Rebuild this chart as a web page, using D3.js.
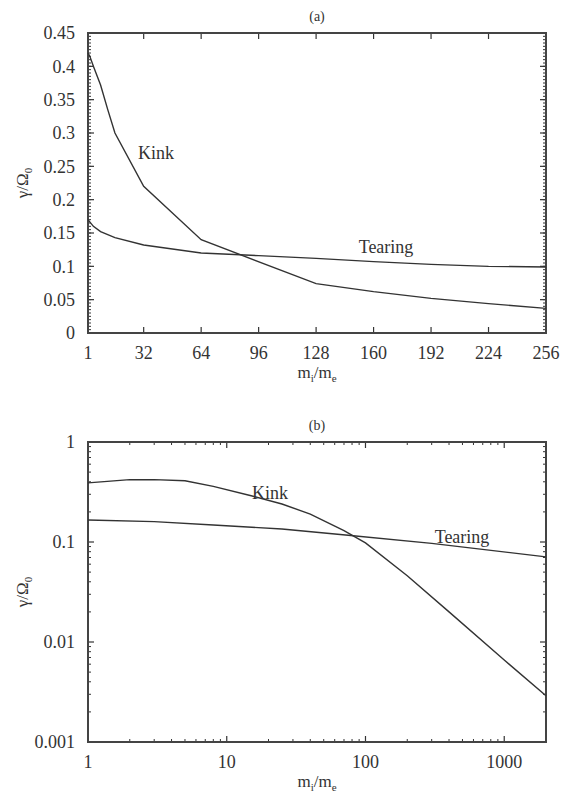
<!DOCTYPE html>
<html><head><meta charset="utf-8">
<script src="https://cdn.jsdelivr.net/npm/d3@7"></script>
<style>body{margin:0;background:#fff}text{font-family:"Liberation Serif","Times New Roman",serif;fill:#333}</style>
</head><body>
<svg id="c" width="571" height="798"></svg>
<script>
// Panel (a): linear axes
const aKinkX = [1, 2, 4, 8, 12, 16, 32, 64, 128, 160, 192, 224, 256];
const aKinkY = [0.42, 0.415, 0.40, 0.372, 0.335, 0.30, 0.22, 0.14, 0.074, 0.062, 0.052, 0.044, 0.037];
const aTearX = [1, 4, 8, 16, 32, 64, 96, 128, 160, 192, 224, 256];
const aTearY = [0.17, 0.16, 0.152, 0.143, 0.132, 0.12, 0.116, 0.112, 0.107, 0.103, 0.100, 0.099];
const aXTicks = [1, 32, 64, 96, 128, 160, 192, 224, 256];
const aYTicks = [0, 0.05, 0.1, 0.15, 0.2, 0.25, 0.3, 0.35, 0.4, 0.45];
// Panel (b): log-log axes
const bKinkX = [1, 2, 3, 5, 8, 15, 25, 40, 70, 100, 200, 400, 1000, 2000];
const bKinkY = [0.39, 0.42, 0.42, 0.41, 0.36, 0.29, 0.24, 0.19, 0.13, 0.098, 0.046, 0.02, 0.0066, 0.0029];
const bTearX = [1, 3, 8, 25, 75, 300, 2000];
const bTearY = [0.166, 0.16, 0.148, 0.135, 0.117, 0.097, 0.071];
const bXTicks = [1, 10, 100, 1000];
const bYTicks = [0.001, 0.01, 0.1, 1];

const svg = d3.select("#c");
const L = 88, R = 546;
const ink = "#333";

function frame(g, x, y, xTicks, xMinor, yTicks, yMinor, xfmt, yfmt, top, bottom){
  const tk = (x1,y1,x2,y2,w)=>g.append("line").attr("x1",x1).attr("y1",y1).attr("x2",x2).attr("y2",y2).attr("stroke",ink).attr("stroke-width",w||1);
  yMinor.forEach(v=>{const p=y(v); tk(L,p,L+3,p); tk(R,p,R-3,p);});
  xMinor.forEach(v=>{const p=x(v); tk(p,bottom,p,bottom-3); tk(p,top,p,top+3);});
  yTicks.forEach(v=>{const p=y(v); tk(L,p,L+6,p,1.2); tk(R,p,R-6,p,1.2);
    g.append("text").attr("x",L-13).attr("y",p).attr("dy","0.35em").attr("text-anchor","end").attr("font-size",18).text(yfmt(v));});
  xTicks.forEach(v=>{const p=x(v); tk(p,bottom,p,bottom-6,1.2); tk(p,top,p,top+6,1.2);
    g.append("text").attr("x",p).attr("y",bottom+26).attr("text-anchor","middle").attr("font-size",18).text(xfmt(v));});
  g.append("rect").attr("x",L).attr("y",top).attr("width",R-L).attr("height",bottom-top)
    .attr("fill","none").attr("stroke","#444").attr("stroke-width",2);
}
function labels(g, top, bottom, title){
  g.append("text").attr("x",(L+R)/2).attr("y",top-12).attr("text-anchor","middle").attr("font-size",14).text(title);
  const xl = g.append("text").attr("x",(L+R)/2).attr("y",bottom+45).attr("text-anchor","middle").attr("font-size",17);
  xl.append("tspan").text("m");
  xl.append("tspan").attr("font-size",11).attr("dy",4).text("i");
  xl.append("tspan").attr("dy",-4).text("/m");
  xl.append("tspan").attr("font-size",11).attr("dy",4).text("e");
  const cy=(top+bottom)/2;
  const yl = g.append("text").attr("transform",`translate(28,${cy}) rotate(-90)`).attr("text-anchor","middle").attr("font-size",17);
  yl.append("tspan").text("γ/Ω");
  yl.append("tspan").attr("font-size",11).attr("dy",4).text("0");
}
function curve(g, x, y, xs, ys){
  const line = d3.line().x(d=>x(d[0])).y(d=>y(d[1]));
  g.append("path").attr("d", line(xs.map((v,i)=>[v, ys[i]]))).attr("fill","none").attr("stroke",ink).attr("stroke-width",1.4);
}

// Panel (a)
{
  const top=33, bottom=333;
  const g = svg.append("g");
  const x = d3.scaleLinear().domain([1,256]).range([L,R]);
  const y = d3.scaleLinear().domain([0,0.45]).range([bottom,top]);
  const yMinor = d3.range(0,0.4501,0.005);
  frame(g,x,y,aXTicks,[],aYTicks,yMinor,d=>String(d),d=>d3.format("")(+d.toFixed(2)),top,bottom);
  curve(g,x,y,aKinkX,aKinkY);
  curve(g,x,y,aTearX,aTearY);
  labels(g,top,bottom,"(a)");
  g.append("text").attr("x",156).attr("y",159).attr("text-anchor","middle").attr("font-size",18).text("Kink");
  g.append("text").attr("x",386).attr("y",253).attr("text-anchor","middle").attr("font-size",18).text("Tearing");
}
// Panel (b)
{
  const top=442, bottom=742;
  const g = svg.append("g");
  const x = d3.scaleLog().domain([1,2000]).range([L,R]);
  const y = d3.scaleLog().domain([0.001,1]).range([bottom,top]);
  const xMinor=[], yMinor=[];
  [1,10,100,1000].forEach(d=>{for(let k=2;k<=9;k++){ if(d*k<=2000) xMinor.push(d*k);} });
  [0.001,0.01,0.1].forEach(d=>{for(let k=2;k<=9;k++) yMinor.push(d*k);});
  frame(g,x,y,bXTicks,xMinor,bYTicks,yMinor,d=>String(d),d=>String(d),top,bottom);
  curve(g,x,y,bKinkX,bKinkY);
  curve(g,x,y,bTearX,bTearY);
  labels(g,top,bottom,"(b)");
  g.append("text").attr("x",270).attr("y",499).attr("text-anchor","middle").attr("font-size",18).text("Kink");
  g.append("text").attr("x",462).attr("y",543).attr("text-anchor","middle").attr("font-size",18).text("Tearing");
}
</script>
</body></html>
